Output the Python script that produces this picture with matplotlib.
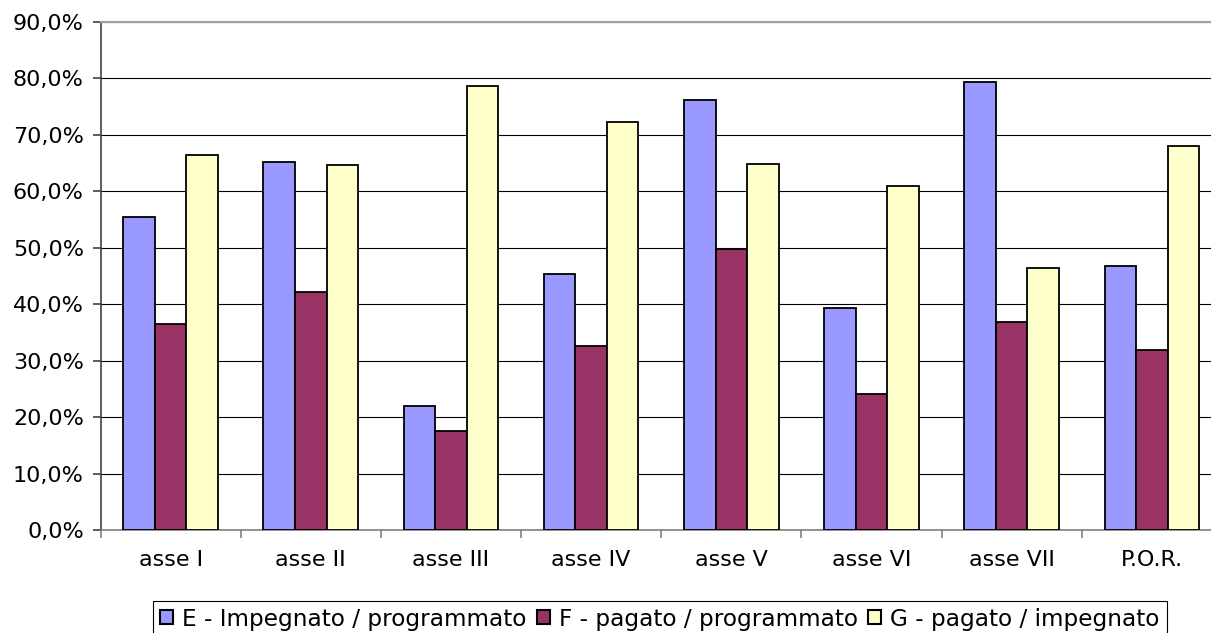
import numpy as np
import matplotlib
matplotlib.use("Agg")
import matplotlib.pyplot as plt
from matplotlib.ticker import FuncFormatter, FixedLocator

# categories and ratios (%)
categories = ["asse I", "asse II", "asse III", "asse IV", "asse V", "asse VI", "asse VII", "P.O.R."]
impegnato_programmato = [55.4, 65.2, 22.0, 45.4, 76.2, 39.3, 79.4, 46.8]
pagato_programmato = [36.6, 42.2, 17.5, 32.6, 49.8, 24.1, 36.9, 31.9]
pagato_impegnato = [66.4, 64.6, 78.7, 72.3, 64.8, 61.0, 46.5, 68.1]

series_labels = ["E - Impegnato / programmato", "F - pagato / programmato", "G - pagato / impegnato"]
series_colors = ["#9999FF", "#993366", "#FFFFCC"]

plt.rcParams['font.family'] = ['DejaVu Sans']

fig = plt.figure(figsize=(12.11, 6.33), dpi=100)
# plot area runs slightly past the right edge of the figure
ax = fig.add_axes([100.5 / 1211, 102.7 / 633, 1121.5 / 1211, 508.3 / 633])

x = np.arange(len(categories)) + 0.5
w = 0.225
all_series = [impegnato_programmato, pagato_programmato, pagato_impegnato]
for i, (vals, lab, col) in enumerate(zip(all_series, series_labels, series_colors)):
    ax.bar(x + (i - 1) * w, vals, width=w, color=col, edgecolor="black",
           linewidth=1.3, label=lab, zorder=3)

ax.set_xlim(0, len(categories))
ax.set_ylim(0, 90)
ax.set_yticks(np.arange(0, 91, 10))
ax.yaxis.set_major_formatter(FuncFormatter(lambda v, p: f"{v:.1f}%".replace(".", ",")))
ax.yaxis.grid(True, color="black", linewidth=0.8)
ax.set_axisbelow(True)

# ticks at category boundaries, labels centred under each group
ax.xaxis.set_major_locator(FixedLocator(np.arange(len(categories) + 1)))
ax.xaxis.set_major_formatter(FuncFormatter(lambda v, p: ""))
ax.xaxis.set_minor_locator(FixedLocator(x))
ax.set_xticklabels(categories, minor=True)
ax.tick_params(axis="x", which="minor", length=0, pad=14, labelsize=16)
ax.tick_params(axis="x", which="major", length=6, color="#808080", width=1.2)
ax.tick_params(axis="y", length=6, color="#404040", width=1.2, pad=6, labelsize=16)

ax.spines["right"].set_visible(False)
ax.spines["top"].set_color("#A0A0A0")
ax.spines["top"].set_linewidth(1.5)
ax.spines["left"].set_color("#404040")
ax.spines["left"].set_linewidth(1.2)
ax.spines["bottom"].set_color("#808080")
ax.spines["bottom"].set_linewidth(1.2)

leg = fig.legend(loc="upper center", bbox_to_anchor=(660 / 1211, 32.3 / 633), ncol=3,
                 fontsize=16.7, frameon=True, fancybox=False, edgecolor="black",
                 framealpha=1, borderpad=0.3, handlelength=0.55, handleheight=0.55,
                 handletextpad=0.4, columnspacing=0.45, borderaxespad=0)
leg.get_frame().set_linewidth(0.8)
for h in leg.legend_handles:
    h.set_linewidth(1.5)

fig.savefig("out.png", dpi=100)
